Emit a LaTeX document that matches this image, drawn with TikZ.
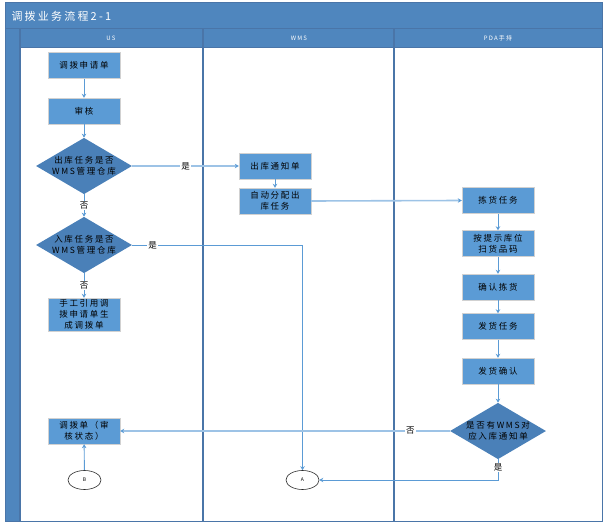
\documentclass[tikz,border=0pt]{standalone}
\usepackage{fontspec}
\newfontfamily\cjk[LetterSpace=20]{Noto Sans CJK SC}
\usetikzlibrary{positioning, arrows.meta, shapes.geometric}
\definecolor{headblue}{HTML}{4F86BE}
\definecolor{laneline}{HTML}{4A75A8}
\definecolor{boxblue}{HTML}{5B9BD5}
\definecolor{decblue}{HTML}{4A80B8}
\definecolor{lightline}{HTML}{9DC3E6}
\definecolor{arrowblue}{HTML}{5B9BD5}
\begin{document}
\begin{tikzpicture}[x=1pt, y=-1pt, font=\cjk\fontsize{8.5}{11}\selectfont,
  >={Stealth[length=4pt, width=4.5pt]},
  proc/.style={draw=black!18, fill=boxblue, minimum width=72pt, minimum height=26pt,
               align=center, inner sep=1pt},
  dec/.style={diamond, fill=decblue, minimum width=96pt, minimum height=56pt,
              aspect=1.7, align=center, inner sep=0pt},
  term/.style={ellipse, draw=black!85, semithick, fill=white, minimum width=33pt,
               minimum height=19pt, inner sep=0pt, font=\cjk\fontsize{5}{6}\selectfont},
  lane/.style={text=white, font=\cjk\fontsize{6}{7}\selectfont},
  conn/.style={->, draw=arrowblue, line width=0.9pt},
  flow/.style={-{Stealth[length=4pt, width=4.5pt, color=arrowblue]}, draw=lightline, line width=1.6pt},
  lbl/.style={fill=white, inner sep=1pt}]
\useasboundingbox (0,0) rectangle (609,526);
% Swimlane frame: title bar, lane headers, left band.
\fill[headblue] (5,3) rectangle (602,48);
\fill[headblue] (5,48) rectangle (20,521);
\draw[laneline, line width=1pt] (5,3) rectangle (602,521);
\draw[laneline, line width=1pt] (5,29) -- (602,29);
\draw[laneline, line width=1pt] (20,48) -- (602,48);
\foreach \lx in {20,203,394} \draw[laneline, line width=1.4pt] (\lx,29) -- (\lx,521);
\node[text=white, anchor=west, font=\cjk\fontsize{11}{12}\selectfont] (title) at (8,16) {调拨业务流程2-1};
\node[lane] (laneus) at (111,38) {US};
\node[lane] (lanewms) at (299,38) {WMS};
\node[lane] (lanepda) at (498,38) {PDA手持};
% US lane.
\node[proc] (apply) at (84,65.5) {调拨申请单};
\node[proc] (audit) at (84,111) {审核};
\node[dec] (outcheck) at (84,166) {出库任务是否\\WMS管理仓库};
\node[dec] (incheck) at (84,245) {入库任务是否\\WMS管理仓库};
\node[proc, minimum height=33pt] (manual) at (84,314.5) {手工引用调\\拨申请单生\\成调拨单};
\node[proc] (transfer) at (84,431) {调拨单（审\\核状态）};
\node[term] (connb) at (84.5,480) {B};
% WMS lane.
\node[proc] (outnote) at (275,166) {出库通知单};
\node[proc] (autoassign) at (275,201) {自动分配出\\库任务};
\node[term] (conna) at (302.5,480) {A};
% PDA lane.
\node[proc] (picktask) at (498,200.5) {拣货任务};
\node[proc] (scan) at (498,243.5) {按提示库位\\扫货品码};
\node[proc] (confirmpick) at (498,287) {确认拣货};
\node[proc] (shiptask) at (498,326.5) {发货任务};
\node[proc] (shipconfirm) at (498,371) {发货确认};
\node[dec] (innote) at (498,431) {是否有WMS对\\应入库通知单};
% Connectors.
\draw[conn] (apply) -- (audit);
\draw[conn] (audit) -- (outcheck);
\draw[conn] (outcheck) -- (incheck) node[lbl, midway] {否};
\draw[conn] (incheck) -- (manual) node[lbl, midway] {否};
\draw[flow] (outcheck.east) -- (outnote.west) node[lbl, midway] {是};
\draw[conn] (outnote) -- (autoassign);
\draw[flow] (autoassign.east) -- (picktask.west);
\draw[conn] (picktask) -- (scan);
\draw[conn] (scan) -- (confirmpick);
\draw[conn] (confirmpick) -- (shiptask);
\draw[conn] (shiptask) -- (shipconfirm);
\draw[conn] (shipconfirm) -- (innote);
\draw[conn] (incheck.east) -| (conna.north) node[lbl, pos=.06] {是};
\draw[flow] (innote.west) -- (transfer.east) node[lbl, pos=.12] {否};
\draw[conn] (innote.south) |- (conna.east) node[lbl, pos=.2] {是};
\draw[conn] (connb) -- (transfer);
\end{tikzpicture}
\end{document}
